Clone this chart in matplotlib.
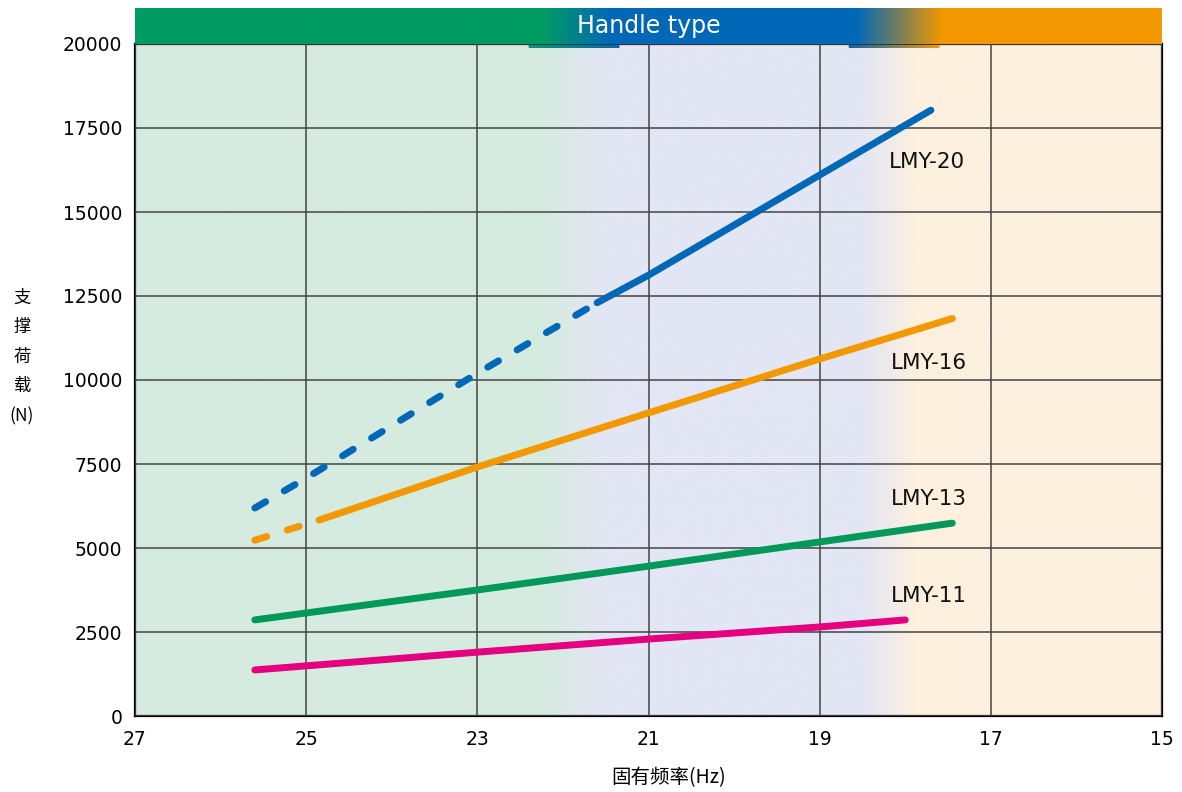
import numpy as np
import matplotlib
matplotlib.use("Agg")
import matplotlib.pyplot as plt
from matplotlib.colors import to_rgb

plt.rcParams['font.family'] = ['Noto Sans CJK SC', 'DejaVu Sans']

# data (x = natural frequency in Hz, y = load in N)
lmy20_dash_x = [25.6, 25.0, 23.0, 21.6]
lmy20_dash_y = [6190, 7080, 10200, 12300]
lmy20_x = [21.6, 21.0, 19.0, 17.7]
lmy20_y = [12300, 13120, 16100, 18030]

lmy16_dash_x = [25.6, 24.85]
lmy16_dash_y = [5230, 5830]
lmy16_x = [24.85, 23.0, 21.0, 19.0, 17.45]
lmy16_y = [5830, 7410, 9020, 10625, 11830]

lmy13_x = [25.6, 23.0, 21.0, 19.0, 17.45]
lmy13_y = [2860, 3750, 4460, 5180, 5740]

lmy11_x = [25.6, 23.0, 21.0, 19.0, 18.0]
lmy11_y = [1370, 1900, 2290, 2650, 2860]

labels = ['LMY-20', 'LMY-16', 'LMY-13', 'LMY-11']
label_x = [17.75, 17.72, 17.72, 17.72]
label_y = [16490, 10500, 6460, 3570]

x_ticks = [27, 25, 23, 21, 19, 17, 15]
y_ticks = [0, 2500, 5000, 7500, 10000, 12500, 15000, 17500, 20000]

c_blue = '#0068b7'
c_orange = '#f39800'
c_green = '#00995a'
c_pink = '#e4007f'


def gradient(stops, cols, xmin=15, xmax=27, n=600):
    xs = np.linspace(xmin, xmax, n)
    rgb = np.array([to_rgb(c) for c in cols])
    img = np.stack([np.interp(xs, stops, rgb[:, k]) for k in range(3)], axis=-1)
    return img[np.newaxis, :, :], xs


fig = plt.figure(figsize=(11.82, 7.92), dpi=100)
L, R = 135 / 1182, 1162 / 1182
B, T = (792 - 716) / 792, (792 - 44) / 792
ax = fig.add_axes([L, B, R - L, T - B])

# background bands
bg, xs = gradient([15, 17.89, 18.47, 21.57, 22.21, 27],
                  ['#fdf0de', '#fdf0de', '#e3e6f4', '#e3e6f4', '#d6ebe0', '#d6ebe0'])
ax.imshow(bg, extent=[15, 27, 0, 20000], aspect='auto', origin='lower', zorder=0)

ax.set_xlim(27, 15)
ax.set_ylim(0, 20000)
ax.set_xticks(x_ticks)
ax.set_yticks(y_ticks)
ax.grid(True, color='#444444', linewidth=1.1, zorder=2)
ax.set_axisbelow(False)
ax.tick_params(length=0, labelsize=13.5, pad=9)
ax.tick_params(axis='x', pad=10)
for lab in ax.get_xticklabels() + ax.get_yticklabels():
    lab.set_family('DejaVu Sans')
for sp in ax.spines.values():
    sp.set_linewidth(1.6)
    sp.set_color('black')

lw = 5
dash = (0, (1.8, 3.1))
ax.plot(lmy20_dash_x, lmy20_dash_y, color=c_blue, lw=lw, ls=dash,
        dash_capstyle='round', zorder=4)
ax.plot(lmy20_x, lmy20_y, color=c_blue, lw=lw, solid_capstyle='round', zorder=4)
ax.plot(lmy16_dash_x, lmy16_dash_y, color=c_orange, lw=lw, ls=dash,
        dash_capstyle='round', zorder=4)
ax.plot(lmy16_x, lmy16_y, color=c_orange, lw=lw, solid_capstyle='round', zorder=4)
ax.plot(lmy13_x, lmy13_y, color=c_green, lw=lw, solid_capstyle='round', zorder=4)
ax.plot(lmy11_x, lmy11_y, color=c_pink, lw=lw, solid_capstyle='round', zorder=4)

for name, lx, ly in zip(labels, label_x, label_y):
    ax.text(lx, ly, name, fontsize=15.5, ha='center', va='center', color='#111111',
            family=['DejaVu Sans'], zorder=5)

# under-header strokes
xs_ = np.linspace(15, 27, 600)
for x0, x1, c0, c1 in [(22.4, 21.35, '#00997a', c_blue), (18.65, 17.6, c_blue, c_orange)]:
    st, _ = gradient([x1, x0], [c1, c0])
    mask = (xs_ >= x1) & (xs_ <= x0)
    rgba = np.concatenate([st, mask[np.newaxis, :, np.newaxis].astype(float)], axis=-1)
    ax.imshow(rgba, extent=[15, 27, 19880, 19950], aspect='auto', zorder=3)

ax.set_xlim(27, 15)
ax.set_ylim(0, 20000)

# header bar
hb = fig.add_axes([L, T, R - L, 36 / 792])
hdr, _ = gradient([15, 17.56, 18.56, 21.45, 22.23, 27],
                  [c_orange, c_orange, c_blue, c_blue, '#009b63', '#009b63'])
hb.imshow(hdr, extent=[15, 27, 0, 1], aspect='auto')
hb.set_xlim(27, 15)
hb.set_ylim(0, 1)
hb.axis('off')
hb.text(21.0, 0.5, 'Handle type', color='white', fontsize=17, ha='center',
        va='center', family=['DejaVu Sans'])

fig.text(22 / 1182, 1 - 357 / 792, '\n'.join(['支', '撑', '荷', '载', '(N)']),
         ha='center', va='center', fontsize=12.5, linespacing=1.82)
fig.text(669 / 1182, 1 - 778 / 792, '固有频率(Hz)', ha='center', va='center',
         fontsize=14)

fig.savefig('out.png', dpi=100)
